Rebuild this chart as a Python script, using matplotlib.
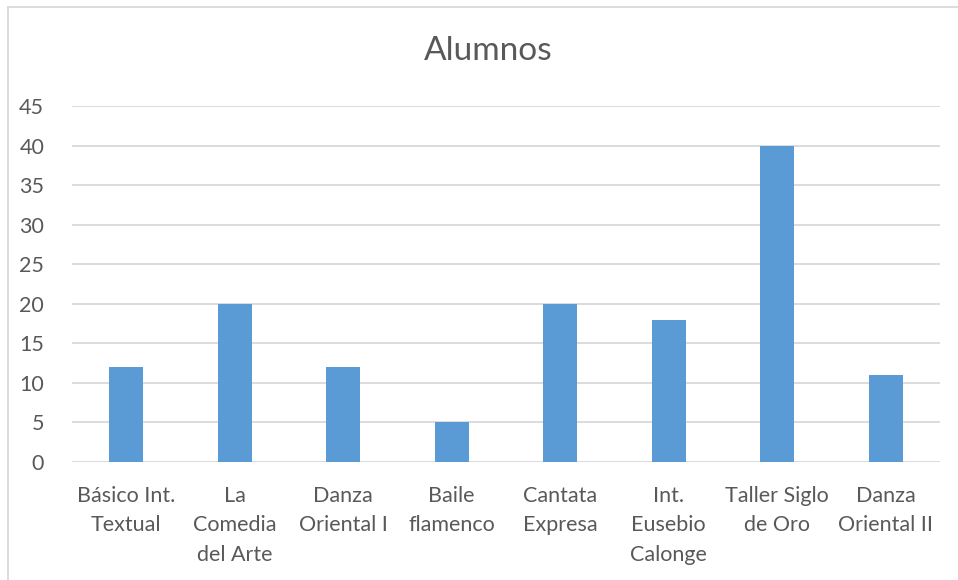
import matplotlib
matplotlib.use("Agg")
import matplotlib.pyplot as plt
from matplotlib.lines import Line2D

categories = ["Básico Int.\nTextual", "La\nComedia\ndel Arte", "Danza\nOriental I",
              "Baile\nflamenco", "Cantata\nExpresa", "Int.\nEusebio\nCalonge",
              "Taller Siglo\nde Oro", "Danza\nOriental II"]
values = [12, 20, 12, 5, 20, 18, 40, 11]
yticks = [0, 5, 10, 15, 20, 25, 30, 35, 40, 45]
title = "Alumnos"

plt.rcParams['font.family'] = ['Lato', 'DejaVu Sans']
W, H = 958, 580
fig = plt.figure(figsize=(W / 100, H / 100), dpi=100)
ax = fig.add_axes([72 / W, (H - 462) / H, (940 - 72) / W, (462 - 106) / H])

x = list(range(len(values)))
ax.bar(x, values, width=0.31, color="#5B9BD5", zorder=3)
ax.set_xlim(-0.5, len(values) - 0.5)
ax.set_ylim(0, 45)
ax.set_yticks(yticks)
ax.set_xticks(x)
ax.set_xticklabels(categories, linespacing=1.6, va="top")
ax.tick_params(axis="both", length=0, labelsize=15.5, labelcolor="#595959")
ax.tick_params(axis="y", pad=20)
ax.tick_params(axis="x", pad=17)
ax.grid(axis="y", color="#D9D9D9", linewidth=1.3, zorder=0)
for s in ax.spines.values():
    s.set_visible(False)

fig.text(488 / W, 1 - 51 / H, title, ha="center", va="center", fontsize=24, color="#595959")

# chart border
fig.add_artist(Line2D([8 / W, 8 / W], [0, 1 - 7 / H], color="#D9D9D9", linewidth=1.3, transform=fig.transFigure))
fig.add_artist(Line2D([8 / W, 1], [1 - 7 / H, 1 - 7 / H], color="#D9D9D9", linewidth=1.3, transform=fig.transFigure))

fig.savefig("out.png", dpi=100)
